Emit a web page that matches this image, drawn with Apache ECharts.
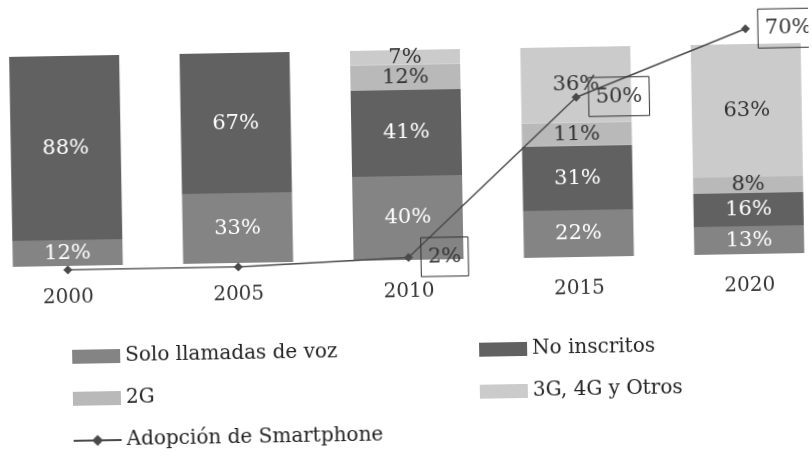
<!DOCTYPE html>
<html><head><meta charset="utf-8">
<script src="https://cdn.jsdelivr.net/npm/echarts@6/dist/echarts.min.js"></script>
<style>
html,body{margin:0;padding:0;background:#fff;overflow:hidden}
#c{width:812px;height:457px;transform:rotate(-1deg);transform-origin:406px 228px;background:#fff}
</style></head><body><div id="c"></div>
<script>
const years = ['2000', '2005', '2010', '2015', '2020'];
const soloVoz = [12, 33, 40, 22, 13];
const noInscritos = [88, 67, 41, 31, 16];
const g2 = [0, 0, 12, 11, 8];
const g3plus = [0, 0, 7, 36, 63];
const smartphone = [0, 0, 2, 50, 70];
const seriesNames = ['Solo llamadas de voz', 'No inscritos', '2G', '3G, 4G y Otros', 'Adopción de Smartphone'];

const FONT = 'DejaVu Serif';
const chart = echarts.init(document.getElementById('c'));

function barLabel(color) {
  return {
    show: true, position: 'inside', color: color, fontFamily: FONT, fontSize: 21,
    formatter: p => (p.value ? p.value + '%' : '')
  };
}
function bar(name, data, color, labelColor) {
  return {
    name: name, type: 'bar', stack: 'total', data: data, barWidth: 110,
    xAxisIndex: 0, yAxisIndex: 0,
    itemStyle: { color: color },
    label: barLabel(labelColor)
  };
}

const lineData = smartphone.map(v => v > 0 ? {
  value: v,
  label: {
    show: true, position: 'right', distance: 8, formatter: '{c}%',
    fontFamily: FONT, fontSize: 21, color: '#333',
    borderColor: '#333', borderWidth: 1, padding: [9, 7]
  }
} : { value: v });

function legendItem(name) {
  return name === seriesNames[4] ? { name: name } : { name: name, icon: 'rect' };
}

chart.setOption({
  animation: false,
  backgroundColor: '#fff',
  grid: [
    { left: -18, right: -22, top: 50, bottom: 197, containLabel: false, outerBoundsMode: 'none' },
    { left: -18, right: -22, top: 2, bottom: 193, containLabel: false, outerBoundsMode: 'none' }
  ],
  xAxis: [
    { type: 'category', gridIndex: 0, data: years,
      axisLine: { show: false }, axisTick: { show: false },
      axisLabel: { fontFamily: FONT, fontSize: 20, color: '#333', margin: 22 } },
    { type: 'category', gridIndex: 1, data: years, show: false }
  ],
  yAxis: [
    { type: 'value', gridIndex: 0, min: 0, max: 100, show: false },
    { type: 'value', gridIndex: 1, min: 0, max: 80, show: false }
  ],
  legend: [
    { orient: 'vertical', left: 64, top: 336, itemWidth: 48, itemHeight: 14, itemGap: 22,
      data: [seriesNames[0], seriesNames[2], seriesNames[4]].map(legendItem),
      textStyle: { fontFamily: FONT, fontSize: 20, color: '#222' } },
    { orient: 'vertical', left: 472, top: 336, itemWidth: 48, itemHeight: 14, itemGap: 22,
      data: [seriesNames[1], seriesNames[3]].map(legendItem),
      textStyle: { fontFamily: FONT, fontSize: 20, color: '#222' } }
  ],
  series: [
    bar(seriesNames[0], soloVoz, '#848484', '#fff'),
    bar(seriesNames[1], noInscritos, '#616161', '#fff'),
    bar(seriesNames[2], g2, '#b9b9b9', '#333'),
    bar(seriesNames[3], g3plus, '#cbcbcb', '#333'),
    { name: seriesNames[4], type: 'line', xAxisIndex: 1, yAxisIndex: 1, data: lineData,
      symbol: 'diamond', symbolSize: 9, z: 5,
      lineStyle: { color: '#4a4a4a', width: 1.5 }, itemStyle: { color: '#4a4a4a' } }
  ]
});
</script></body></html>
